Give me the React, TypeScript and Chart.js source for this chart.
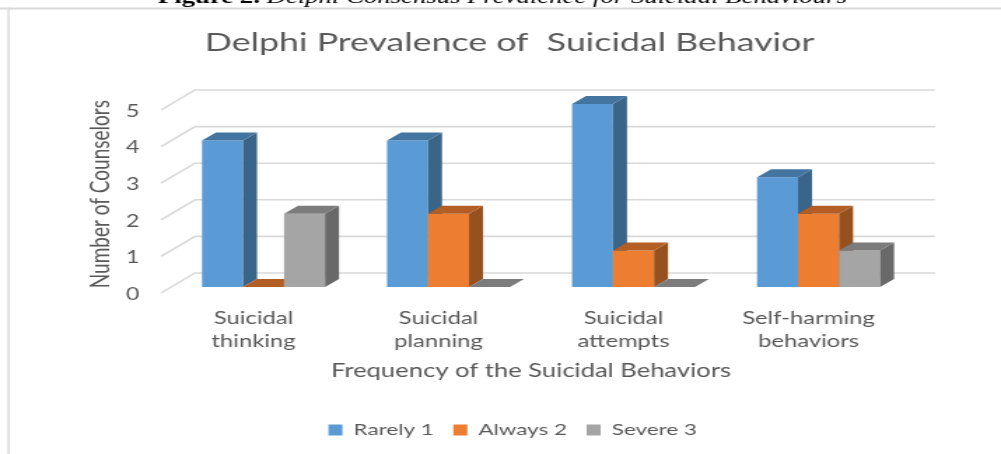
import React, { useEffect, useRef } from "react";
import { Chart, registerables } from "chart.js";

Chart.register(...registerables);

const categories = [
  ["Suicidal", "thinking"],
  ["Suicidal", "planning"],
  ["Suicidal", "attempts"],
  ["Self-harming", "behaviors"],
];
const rarely = [4, 4, 5, 3];
const always = [0, 2, 1, 2];
const severe = [2, 0, 0, 1];
const yTicks = [0, 1, 2, 3, 4, 5];

const titleText = "Delphi Prevalence of  Suicidal Behavior";
const xTitle = "Frequency of the Suicidal Behaviors";
const yTitle = "Number of Counselors";
const captionBold = "Figure 2. ";
const captionItalic = "Delphi Consensus Prevalence for Suicidal Behaviours";

// The reference is a picture stretched horizontally: the canvas is drawn narrow and widened.
const STRETCH = 1.4;
const W = 715;
const H = 454;
const sx = (px: number) => px / STRETCH;

const TEXT = "#595959";
const GRID = "#D9D9D9";
const FONT = "Lato";

const faces = [
  { front: "#5B9BD5", side: "#3A6488", top: "#4475A1" },
  { front: "#ED7D31", side: "#97511F", top: "#B25E25" },
  { front: "#A5A5A5", side: "#696969", top: "#7C7C7C" },
];

// depth projection of the 3-D box, in canvas units
const BAR_OFFSET = { x: sx(10), y: -6 };
const BAR_DEPTH = { x: sx(14), y: -8 };
const WALL = { x: sx(34), y: -20 };

const poly = (ctx: CanvasRenderingContext2D, pts: number[][], color: string) => {
  ctx.beginPath();
  pts.forEach(([x, y], i) => (i ? ctx.lineTo(x, y) : ctx.moveTo(x, y)));
  ctx.closePath();
  ctx.fillStyle = color;
  ctx.fill();
};

const box3d = {
  id: "box3d",
  afterLayout(chart: any) {
    chart.legend.left += sx(3);
    chart.legend.right += sx(3);
  },
  beforeDraw(chart: any) {
    const ctx = chart.ctx;
    ctx.save();
    ctx.fillStyle = "#fff";
    ctx.fillRect(0, 0, W, H);
    ctx.fillStyle = GRID;
    ctx.fillRect(0, 7.5, W, 2);
    ctx.fillRect(sx(7.5), 7.5, sx(2), H);
    ctx.fillStyle = "#000";
    ctx.textBaseline = "alphabetic";
    ctx.textAlign = "left";
    const x0 = sx(158);
    ctx.font = "bold 19.1px 'Liberation Serif'";
    ctx.fillText(captionBold, x0, 3);
    const w = ctx.measureText(captionBold).width;
    ctx.font = "italic 19.1px 'Liberation Serif'";
    ctx.fillText(captionItalic, x0 + w, 3);
    ctx.restore();
  },
  beforeDatasetsDraw(chart: any) {
    const { ctx, chartArea, scales } = chart;
    ctx.save();
    ctx.strokeStyle = GRID;
    ctx.lineWidth = 1.6;
    yTicks.forEach((t) => {
      const y = scales.y.getPixelForValue(t);
      ctx.beginPath();
      ctx.moveTo(chartArea.left, y);
      ctx.lineTo(chartArea.left + WALL.x, y + WALL.y);
      ctx.lineTo(chartArea.right + WALL.x, y + WALL.y);
      ctx.stroke();
    });
    ctx.restore();
  },
  // The boxes overlap, so they are painted left to right after the default pass is skipped.
  beforeDatasetDraw() {
    return false;
  },
  afterDatasetsDraw(chart: any) {
    const ctx = chart.ctx;
    ctx.save();
    ctx.translate(BAR_OFFSET.x, BAR_OFFSET.y);
    chart.data.datasets.forEach((_: any, i: number) => {
      const c = faces[i];
      chart.getDatasetMeta(i).data.forEach((bar: any) => {
        bar.draw(ctx);
        const { x, y, base, width } = bar.getProps(["x", "y", "base", "width"], true);
        const l = x - width / 2;
        const r = x + width / 2;
        const dx = BAR_DEPTH.x;
        const dy = BAR_DEPTH.y;
        poly(ctx, [[r, y], [r + dx, y + dy], [r + dx, base + dy], [r, base]], c.side);
        poly(ctx, [[l, y], [l + dx, y + dy], [r + dx, y + dy], [r, y]], c.top);
      });
    });
    ctx.restore();
  },
};

export default function App() {
  const ref = useRef<HTMLCanvasElement>(null);
  useEffect(() => {
    const chart = new Chart(ref.current as HTMLCanvasElement, {
      type: "bar",
      data: {
        labels: categories,
        datasets: [
          { label: "Rarely 1", data: rarely, backgroundColor: faces[0].front },
          { label: "Always 2", data: always, backgroundColor: faces[1].front },
          { label: "Severe 3", data: severe, backgroundColor: faces[2].front },
        ],
      },
      options: {
        animation: false,
        responsive: false,
        layout: { padding: { left: 13, right: 0, top: 0, bottom: 6 } },
        datasets: { bar: { categoryPercentage: 0.665, barPercentage: 1, clip: false } },
        plugins: {
          tooltip: { enabled: false },
          title: {
            display: true,
            text: titleText,
            color: TEXT,
            font: { family: FONT, size: 25.5, weight: "normal" },
            padding: { top: 27, bottom: 52.4 },
          },
          legend: {
            display: true,
            position: "bottom",
            labels: {
              color: TEXT,
              font: { family: FONT, size: 16 },
              boxWidth: sx(14),
              boxHeight: 11,
              padding: 14,
            },
          },
        },
        scales: {
          x: {
            grid: { display: false },
            border: { display: false },
            afterFit: (s: any) => {
              s.height = 115;
            },
            ticks: {
              color: TEXT,
              font: { family: FONT, size: 17, lineHeight: 1.35 },
              padding: 6,
              maxRotation: 0,
              autoSkip: false,
            },
            title: {
              display: true,
              text: xTitle,
              color: TEXT,
              font: { family: FONT, size: 18.3 },
              padding: { top: 8, bottom: 26 },
            },
          },
          y: {
            min: 0,
            max: 5,
            grid: { display: false },
            border: { display: false },
            afterFit: (s: any) => {
              s.width = 115 - 13;
            },
            ticks: {
              color: TEXT,
              stepSize: 1,
              padding: 7.5,
              labelOffset: 1.5,
              font: { family: FONT, size: 16.5 },
            },
            title: {
              display: true,
              text: "   " + yTitle,
              color: TEXT,
              font: { family: FONT, size: 19 },
              padding: { top: 47, bottom: 0 },
            },
          },
          right: {
            type: "linear",
            position: "right",
            display: true,
            grid: { display: false },
            border: { display: false },
            ticks: { display: false },
            afterFit: (s: any) => {
              s.width = W - 643.6;
            },
          },
        },
      } as any,
      plugins: [box3d],
    });
    return () => chart.destroy();
  }, []);
  return (
    <div style={{ position: "absolute", left: 0, top: 0, width: 1001, height: H, overflow: "hidden" }}>
      <div style={{ width: W, height: H, transform: `scaleX(${STRETCH})`, transformOrigin: "0 0", filter: "blur(0.4px)" }}>
        <canvas ref={ref} width={W} height={H} style={{ display: "block" }} />
      </div>
    </div>
  );
}
